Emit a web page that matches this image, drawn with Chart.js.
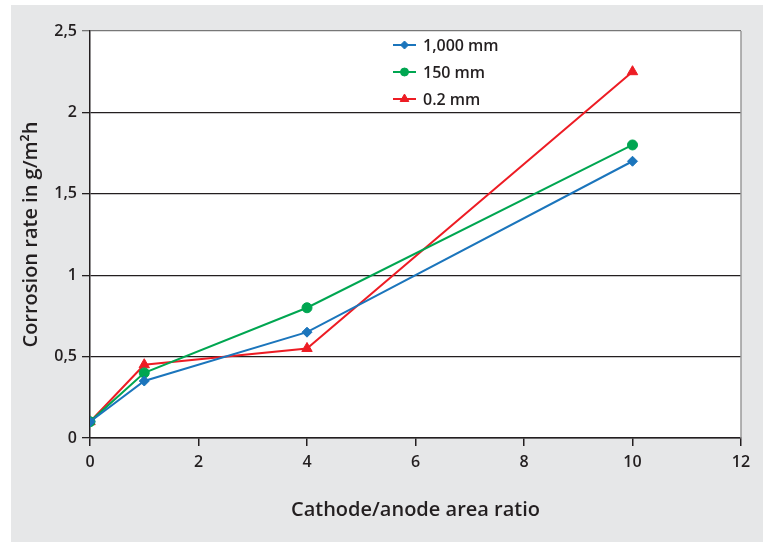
<!DOCTYPE html>
<html>
<head>
<meta charset="utf-8">
<script src="https://cdn.jsdelivr.net/npm/chart.js@4/dist/chart.umd.min.js"></script>
<style>
  html, body { margin: 0; padding: 0; background: #ffffff; }
  #wrap { width: 763px; height: 542px; position: relative; }
</style>
</head>
<body>
<div id="wrap"><canvas id="c" width="763" height="542"></canvas></div>
<script>
// ---- Data ----
const xValues = [0, 1, 4, 10];
const series1000 = [0.1, 0.35, 0.65, 1.7];
const series150 = [0.1, 0.4, 0.8, 1.8];
const series02 = [0.1, 0.45, 0.55, 2.25];
const seriesLabels = ['1,000 mm', '150 mm', '0.2 mm'];
const xTitle = 'Cathode/anode area ratio';
const yTitle = 'Corrosion rate in g/m\u00B2h';

const colors = ['#1b75bc', '#00a651', '#ed1c24'];
const pointStyles = ['rectRot', 'circle', 'triangle'];
const pointRadii = [5, 5, 6];

function toPoints(vals) { return xValues.map((x, i) => ({ x: x, y: vals[i] })); }

const FONT = '"Open Sans", "DejaVu Sans", sans-serif';
const TEXT = '#231f20';

const bgPlugin = {
  id: 'bg',
  beforeDraw(chart) {
    const ctx = chart.ctx;
    const a = chart.chartArea;
    ctx.save();
    ctx.fillStyle = '#ffffff';
    ctx.fillRect(0, 0, chart.width, chart.height);
    ctx.fillStyle = '#e6e7e8';
    ctx.fillRect(11, 5, chart.width - 11, chart.height - 5);
    ctx.fillStyle = '#ffffff';
    ctx.fillRect(a.left, a.top, a.right - a.left, a.bottom - a.top);
    ctx.restore();
  },
  afterDatasetsDraw(chart) {
    const ctx = chart.ctx;
    const a = chart.chartArea;
    ctx.save();
    ctx.strokeStyle = '#9a9a9a';
    ctx.lineWidth = 1.5;
    ctx.beginPath();
    ctx.moveTo(a.right, a.top);
    ctx.lineTo(a.right, a.bottom);
    ctx.stroke();
    ctx.restore();
  }
};

const legendPlugin = {
  id: 'customLegend',
  afterDraw(chart) {
    const ctx = chart.ctx;
    const x0 = 393, x1 = 416, tx = 423;
    const ys = [45, 72, 99];
    ctx.save();
    chart.data.datasets.forEach((ds, i) => {
      const y = ys[i];
      ctx.strokeStyle = ds.borderColor;
      ctx.fillStyle = ds.borderColor;
      ctx.lineWidth = 2;
      ctx.beginPath();
      ctx.moveTo(x0, y);
      ctx.lineTo(x1, y);
      ctx.stroke();
      ctx.lineWidth = 1;
      Chart.helpers.drawPoint(ctx, {
        pointStyle: ds.pointStyle,
        radius: ds.pointStyle === 'triangle' ? 5 : 4,
        borderWidth: 1
      }, (x0 + x1) / 2, y);
      ctx.fillStyle = TEXT;
      ctx.font = '600 16px ' + FONT;
      ctx.textBaseline = 'middle';
      ctx.textAlign = 'left';
      ctx.fillText(ds.label, tx, y + 1);
    });
    ctx.restore();
  }
};

const datasets = [series1000, series150, series02].map((vals, i) => ({
  label: seriesLabels[i],
  data: toPoints(vals),
  borderColor: colors[i],
  backgroundColor: colors[i],
  pointStyle: pointStyles[i],
  pointRadius: pointRadii[i],
  pointHoverRadius: pointRadii[i],
  pointBorderWidth: 1,
  borderWidth: 2,
  tension: 0,
  fill: false
}));

new Chart(document.getElementById('c'), {
  type: 'line',
  data: { datasets: datasets },
  options: {
    responsive: false,
    animation: false,
    devicePixelRatio: 1,
    layout: { padding: { left: 0, right: 22, top: 31, bottom: 0 } },
    plugins: {
      legend: { display: false },
      tooltip: { enabled: false }
    },
    scales: {
      x: {
        type: 'linear',
        min: 0, max: 12,
        afterFit(axis) { axis.height = 104; },
        ticks: {
          stepSize: 2,
          color: TEXT,
          font: { family: FONT, size: 16, weight: '600' },
          padding: 7
        },
        grid: {
          drawOnChartArea: false,
          drawTicks: true,
          tickLength: 8,
          color: '#231f20',
          lineWidth: 1.5
        },
        border: { display: true, color: '#231f20', width: 1.5 },
        title: {
          display: true,
          text: xTitle,
          color: TEXT,
          font: { family: FONT, size: 20, weight: '600' },
          padding: { top: 0, bottom: 20 }
        }
      },
      y: {
        type: 'linear',
        min: 0, max: 2.5,
        afterFit(axis) { axis.width = 90; },
        ticks: {
          stepSize: 0.5,
          color: TEXT,
          font: { family: FONT, size: 16, weight: '600' },
          padding: 5,
          callback: (v) => String(v).replace('.', ',')
        },
        grid: {
          drawTicks: true,
          tickLength: 8,
          color: (c) => c.tick && c.tick.value === 2.5 ? '#777777' : '#231f20',
          lineWidth: 1.3
        },
        border: { display: true, color: '#231f20', width: 1.5 },
        title: {
          display: true,
          text: yTitle,
          color: TEXT,
          font: { family: FONT, size: 20, weight: '600' },
          padding: { top: 19, bottom: 0 }
        }
      }
    }
  },
  plugins: [bgPlugin, legendPlugin]
});
</script>
</body>
</html>
